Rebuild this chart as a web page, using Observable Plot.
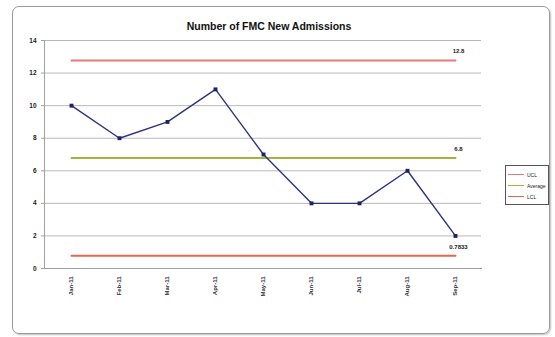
<!DOCTYPE html>
<html>
<head>
<meta charset="utf-8">
<script src="https://cdn.jsdelivr.net/npm/d3@7"></script>
<script src="https://cdn.jsdelivr.net/npm/@observablehq/plot@0.6"></script>
<style>
  html, body { margin: 0; padding: 0; background: #fff; }
  #wrap { position: relative; width: 555px; height: 337px; font-family: "Liberation Sans", Arial, sans-serif; }
  #box { position: absolute; left: 12px; top: 6px; width: 536px; height: 326px; border: 1px solid #9a9a9a; border-radius: 7px; box-shadow: 1px 1px 2px rgba(0,0,0,0.25); }
  #chart { position: absolute; left: 0; top: 0; }
  #legend { position: absolute; left: 505px; top: 165px; width: 44px; height: 40px; border: 1px solid #555; background: #fff; font-size: 5px; color: #222; box-sizing: border-box; padding: 3px 2px; }
  #legend div { display: flex; align-items: center; height: 11px; }
  #legend span.sw { display: inline-block; width: 16px; height: 1.5px; margin-right: 3px; }
</style>
</head>
<body>
<div id="wrap">
  <div id="box"></div>
  <div id="chart"></div>
  <div id="legend"></div>
</div>
<script>
// Monthly new admissions with control limits
const months = ["Jan-11", "Feb-11", "Mar-11", "Apr-11", "May-11", "Jun-11", "Jul-11", "Aug-11", "Sep-11"];
const admissions = [10, 8, 9, 11, 7, 4, 4, 6, 2];
const limitNames = ["UCL", "Average", "LCL"];
const limitValues = [12.77, 6.78, 0.7833];
const limitLabels = ["12.8", "6.8", "0.7833"];
const limitColors = ["#e27c7c", "#a3b43c", "#e2674f"];
const yTicks = [0, 2, 4, 6, 8, 10, 12, 14];

const series = months.map((m, i) => ({month: m, value: admissions[i]}));
const limitRows = limitNames.flatMap((name, k) =>
  months.map(m => ({name, month: m, value: limitValues[k]})));
const limitEnds = limitNames.map((name, k) =>
  ({name, month: months[months.length - 1], value: limitValues[k], label: limitLabels[k]}));

const chart = Plot.plot({
  width: 555,
  height: 337,
  marginLeft: 44,
  marginRight: 74,
  marginTop: 40,
  marginBottom: 69,
  style: {fontFamily: "Liberation Sans, Arial, sans-serif", background: "transparent", overflow: "visible"},
  x: {type: "point", domain: months, padding: 0.5, label: null},
  y: {domain: [0, 14], ticks: yTicks, label: null},
  color: {domain: limitNames, range: limitColors},
  marks: [
    Plot.gridY(yTicks, {stroke: "#b8b8b8", strokeOpacity: 1, strokeWidth: 1}),
    Plot.frame({anchor: "left", stroke: "#a0a0a0"}),
    Plot.frame({anchor: "bottom", stroke: "#a0a0a0"}),
    Plot.axisY(yTicks, {tickSize: 3, tickPadding: 5, fontSize: 6.5, fontWeight: "bold", fill: "#222", stroke: "#a0a0a0", label: null}),
    Plot.axisX({tickSize: 0, tickRotate: -90, tickPadding: 8, fontSize: 6, fontWeight: "bold", fill: "#333", label: null}),
    Plot.line(limitRows, {x: "month", y: "value", z: "name", stroke: "name", strokeWidth: 2}),
    Plot.line(series, {x: "month", y: "value", stroke: "#2e3380", strokeWidth: 1.4}),
    Plot.dot(series, {x: "month", y: "value", symbol: "square", r: 2.2, fill: "#1f2360"}),
    Plot.text(limitEnds, {x: "month", y: "value", text: "label", dy: -9, dx: 3, fontSize: 6, fontWeight: "bold", fill: "#222"}),
    Plot.text(["Number of FMC New Admissions"], {frameAnchor: "top", dy: -18, dx: 6, fontSize: 10.5, fontWeight: "bold", fill: "#111"})
  ]
});
document.getElementById("chart").appendChild(chart);

// Legend for the control-limit lines
const legend = document.getElementById("legend");
limitNames.forEach((name, k) => {
  const row = document.createElement("div");
  const sw = document.createElement("span");
  sw.className = "sw";
  sw.style.background = limitColors[k];
  row.appendChild(sw);
  row.appendChild(document.createTextNode(name));
  legend.appendChild(row);
});
</script>
</body>
</html>
